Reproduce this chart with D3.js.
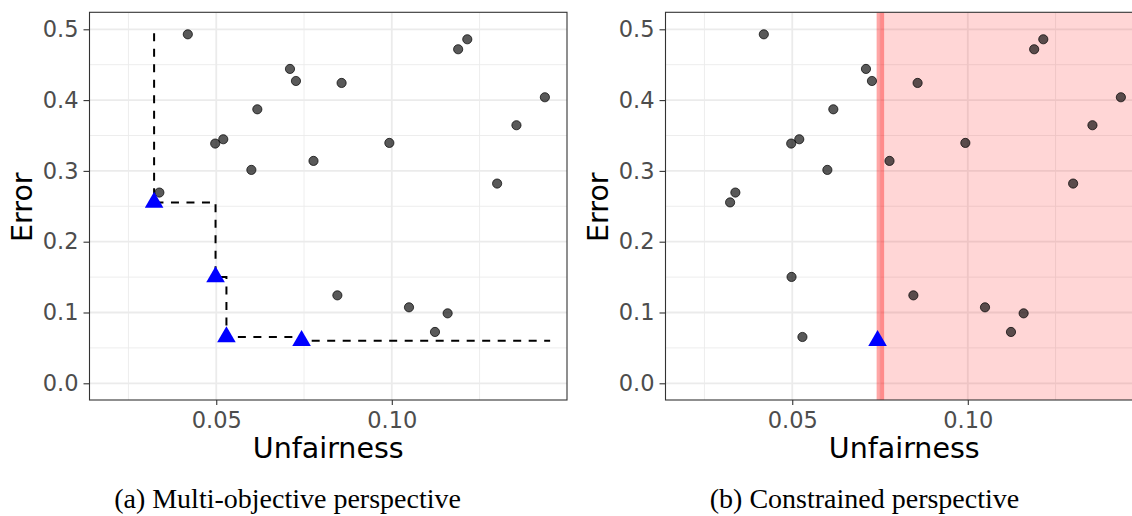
<!DOCTYPE html>
<html>
<head>
<meta charset="utf-8">
<script src="https://cdn.jsdelivr.net/npm/d3@7"></script>
<style>
  html, body { margin: 0; padding: 0; background: #fff; }
  svg { display: block; }
</style>
</head>
<body>
<svg id="chart" width="1132" height="516"></svg>
<script>
// candidate models (not on the front)
const dotUnfairness = [0.0419, 0.0710, 0.0727, 0.0857, 0.0617, 0.0497, 0.0520, 0.0600, 0.0777, 0.0993,
                       0.1189, 0.1215, 0.1436, 0.1355, 0.1300, 0.0338, 0.0845, 0.1049, 0.1159, 0.1123];
const dotError      = [0.4929, 0.4440, 0.4270, 0.4242, 0.3870, 0.3386, 0.3447, 0.3014, 0.3141, 0.3395,
                       0.4718, 0.4859, 0.4040, 0.3645, 0.2821, 0.2694, 0.1242, 0.1073, 0.0988, 0.0725];

// pareto front
const frontUnfairness = [0.0323, 0.0498, 0.0529, 0.0743];
const frontError      = [0.2555, 0.1502, 0.0654, 0.0602];

// constraint on unfairness (panel b)
const unfairnessLimit = 0.0751;

const xMajor = [0.05, 0.10];
const xMinor = [0.025, 0.075, 0.125];
const yMajor = [0, 0.1, 0.2, 0.3, 0.4, 0.5];
const yMinor = [0.05, 0.15, 0.25, 0.35, 0.45];

const captions = ['(a) Multi-objective perspective', '(b) Constrained perspective'];

const svg = d3.select('#chart');
const panelW = 477.5, panelH = 387.7;
const panelTop = 12.3;

function drawPanel(left, id, draw) {
  const x = d3.scaleLinear().domain([0.0139, 0.1499]).range([0, panelW]);
  const y = d3.scaleLinear().domain([-0.0236, 0.524]).range([panelH, 0]);

  const g = svg.append('g').attr('transform', `translate(${left},${panelTop})`);

  g.append('clipPath').attr('id', id)
    .append('rect').attr('width', panelW).attr('height', panelH);

  const body = g.append('g').attr('clip-path', `url(#${id})`);

  // grid
  body.selectAll('.xmin').data(xMinor).join('line')
    .attr('x1', d => x(d)).attr('x2', d => x(d)).attr('y1', 0).attr('y2', panelH)
    .attr('stroke', '#ebebeb').attr('stroke-width', 0.9);
  body.selectAll('.ymin').data(yMinor).join('line')
    .attr('y1', d => y(d)).attr('y2', d => y(d)).attr('x1', 0).attr('x2', panelW)
    .attr('stroke', '#ebebeb').attr('stroke-width', 0.9);
  body.selectAll('.xmaj').data(xMajor).join('line')
    .attr('x1', d => x(d)).attr('x2', d => x(d)).attr('y1', 0).attr('y2', panelH)
    .attr('stroke', '#ebebeb').attr('stroke-width', 1.8);
  body.selectAll('.ymaj').data(yMajor).join('line')
    .attr('y1', d => y(d)).attr('y2', d => y(d)).attr('x1', 0).attr('x2', panelW)
    .attr('stroke', '#ebebeb').attr('stroke-width', 1.8);

  draw(body, x, y);

  // axes
  const xAxis = g.append('g').attr('transform', `translate(0,${panelH})`)
    .call(d3.axisBottom(x).tickValues(xMajor).tickFormat(d3.format('.2f')).tickSize(5).tickPadding(7));
  const yAxis = g.append('g')
    .call(d3.axisLeft(y).tickValues(yMajor).tickFormat(d3.format('.1f')).tickSize(6).tickPadding(5));
  [xAxis, yAxis].forEach(a => {
    a.select('.domain').remove();
    a.selectAll('.tick line').attr('stroke', '#333').attr('stroke-width', 1.1);
    a.selectAll('.tick text').attr('fill', '#4d4d4d')
      .style('font-family', 'DejaVu Sans').style('font-size', '22.5px');
  });

  g.append('rect').attr('width', panelW).attr('height', panelH)
    .attr('fill', 'none').attr('stroke', '#333').attr('stroke-width', 1.1);

  g.append('text').attr('x', panelW / 2).attr('y', 446)
    .attr('text-anchor', 'middle')
    .style('font-family', 'DejaVu Sans').style('font-size', '28.5px')
    .text('Unfairness');

  g.append('text').attr('transform', `translate(-57.2,${panelH / 2 + 1}) rotate(-90)`)
    .attr('text-anchor', 'middle')
    .style('font-family', 'DejaVu Sans').style('font-size', '28.5px')
    .text('Error');
}

function dots(body, x, y, xs, ys) {
  body.selectAll(null).data(d3.range(xs.length)).join('circle')
    .attr('cx', i => x(xs[i])).attr('cy', i => y(ys[i])).attr('r', 4.6)
    .attr('fill', '#000').attr('fill-opacity', 0.65)
    .attr('stroke', '#000').attr('stroke-opacity', 0.7).attr('stroke-width', 1);
}

function triangles(body, x, y, xs, ys) {
  body.selectAll(null).data(d3.range(xs.length)).join('path')
    .attr('d', d3.symbol(d3.symbolTriangle, 150))
    .attr('transform', i => `translate(${x(xs[i])},${y(ys[i])})`)
    .attr('fill', '#0000ff');
}

// (a) multi-objective
drawPanel(89.5, 'clipA', (body, x, y) => {
  dots(body, x, y, dotUnfairness, dotError);

  const stepPts = [[frontUnfairness[0], d3.max(dotError.concat(frontError)) + 0.0015]]
    .concat(frontUnfairness.map((u, i) => [u, frontError[i]]))
    .concat([[d3.max(dotUnfairness.concat(frontUnfairness)) + 0.0015, frontError[frontError.length - 1]]]);

  body.append('path')
    .datum(stepPts)
    .attr('fill', 'none')
    .attr('stroke', '#000')
    .attr('stroke-width', 2)
    .attr('stroke-dasharray', '8,7.5')
    .attr('d', d3.line().x(d => x(d[0])).y(d => y(d[1])).curve(d3.curveStepAfter));

  triangles(body, x, y, frontUnfairness, frontError);
});

// (b) constrained
drawPanel(665.5, 'clipB', (body, x, y) => {
  body.append('rect')
    .attr('x', x(unfairnessLimit)).attr('y', 0)
    .attr('width', panelW - x(unfairnessLimit)).attr('height', panelH)
    .attr('fill', '#ff0000').attr('fill-opacity', 0.16);

  body.append('line')
    .attr('x1', x(unfairnessLimit)).attr('x2', x(unfairnessLimit))
    .attr('y1', 0).attr('y2', panelH)
    .attr('stroke', '#ff0000').attr('stroke-opacity', 0.35).attr('stroke-width', 7.5);

  // best model under the constraint
  let best = -1;
  frontUnfairness.forEach((u, i) => {
    if (u <= unfairnessLimit && (best < 0 || frontError[i] < frontError[best])) best = i;
  });
  const restU = dotUnfairness.concat(frontUnfairness.filter((u, i) => i !== best));
  const restE = dotError.concat(frontError.filter((e, i) => i !== best));

  dots(body, x, y, restU, restE);
  triangles(body, x, y, [frontUnfairness[best]], [frontError[best]]);
});

// captions
svg.selectAll('.caption').data(captions).join('text')
  .attr('x', (d, i) => i === 0 ? 287.5 : 864.5)
  .attr('y', 508)
  .attr('text-anchor', 'middle')
  .style('font-family', 'Liberation Serif')
  .style('font-size', '28px')
  .text(d => d);
</script>
</body>
</html>
